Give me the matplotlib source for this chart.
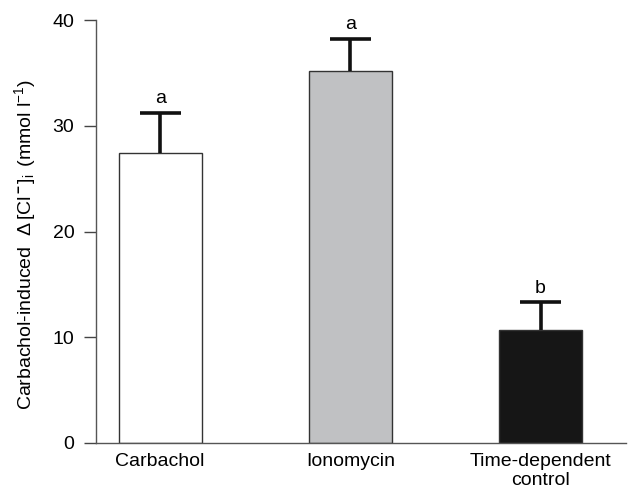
import matplotlib
matplotlib.use("Agg")
import matplotlib.pyplot as plt

plt.rcParams['font.family'] = ['Liberation Sans', 'DejaVu Sans']
plt.rcParams['mathtext.fontset'] = 'custom'
plt.rcParams['mathtext.rm'] = 'Liberation Sans'
plt.rcParams['mathtext.it'] = 'Liberation Sans:italic'
plt.rcParams['mathtext.bf'] = 'Liberation Sans:bold'

categories = ["Carbachol", "Ionomycin", "Time-dependent\ncontrol"]
values = [27.4, 35.2, 10.7]
errors = [3.8, 3.0, 2.6]
letters = ["a", "a", "b"]
colors = ["#ffffff", "#c0c1c3", "#161616"]

fig = plt.figure(figsize=(6.28, 4.92), dpi=100)
ax = fig.add_axes([0.153, 0.0996, 0.844, 0.8594])

x = list(range(len(categories)))
ax.bar(x, values, width=0.437, color=colors, edgecolor="#333333", linewidth=1.0, zorder=2)
tops = [v + e for v, e in zip(values, errors)]
ax.vlines(x, values, tops, colors="#111111", linewidth=2.6, zorder=3)
cap = 0.108
ax.hlines(tops, [xi - cap for xi in x], [xi + cap for xi in x], colors="#111111",
          linewidth=2.6, zorder=3)
for xi, t, l in zip(x, tops, letters):
    ax.text(xi, t + 0.55, l, ha='center', va='bottom', fontsize=14)

ax.set_xlim(-0.337, 2.45)
ax.set_ylim(0, 40)
ax.set_yticks([0, 10, 20, 30, 40])
ax.set_xticks(x)
ax.set_xticklabels(categories, fontsize=14, linespacing=1.2)
ax.tick_params(axis='x', length=0, pad=7)
ax.tick_params(axis='y', length=8.6, width=1, labelsize=14, pad=7, color="#444444")
for s in ['top', 'right']:
    ax.spines[s].set_visible(False)
for s in ['left', 'bottom']:
    ax.spines[s].set_color("#555555")
    ax.spines[s].set_linewidth(1.0)

ax.set_ylabel(r"Carbachol-induced  $\Delta\,$[Cl$^{\,\mathbf{-}\,}$]$_\mathrm{i}\,$ (mmol l$^{-1}$)",
              fontsize=14)
ax.yaxis.set_label_coords(-0.11, 0.47)

fig.savefig("out.png", dpi=100)
